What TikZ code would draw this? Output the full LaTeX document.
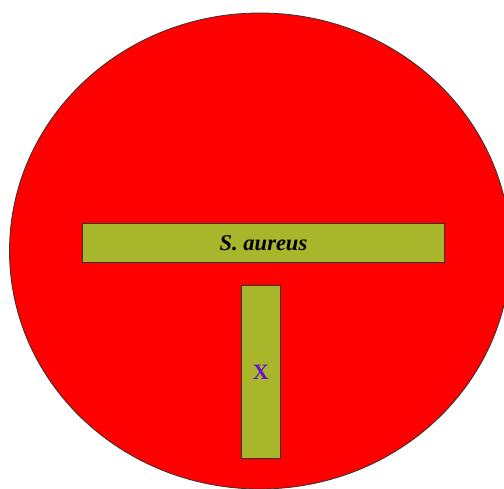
\documentclass[tikz,border=0pt]{standalone}
\usepackage{fontspec}
\setmainfont{Liberation Serif}
\usetikzlibrary{shapes.geometric}
\definecolor{cellred}{HTML}{FF0000}
\definecolor{olive}{HTML}{A8B62C}
\definecolor{xpurple}{HTML}{6A0FD0}

\begin{document}
\begin{tikzpicture}[x=1pt,y=1pt,
  cellnode/.style={draw=black!80,ellipse,fill=cellred,inner sep=0pt,line width=0.8pt},
  barnode/.style={draw=black!80,fill=olive,inner sep=0pt,line width=1pt}]
\useasboundingbox (0,0) rectangle (504,489);
\node[cellnode,minimum width=501pt,minimum height=476pt] (cell) at (260,238) {};
\node[barnode,minimum width=361.6pt,minimum height=39.4pt] (bar) at (263.5,246)
  {\fontsize{22.5}{26}\selectfont\bfseries\itshape S. aureus};
\node[barnode,minimum width=39.7pt,minimum height=173.3pt] (stem) at (260.9,116.7)
  {\textcolor{xpurple}{\fontsize{22}{26}\selectfont\bfseries X}};
\end{tikzpicture}
\end{document}
